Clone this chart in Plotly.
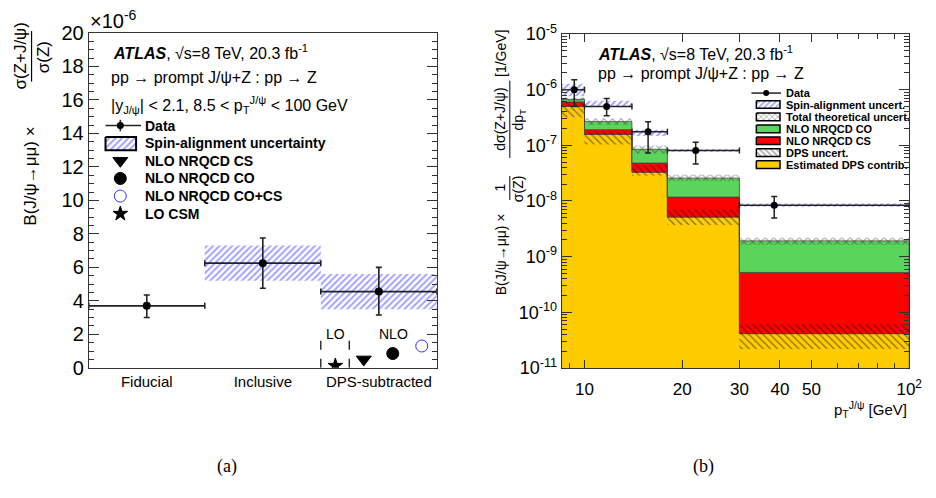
import numpy as np
import plotly.graph_objects as go

W, H = 936, 498

# ---------------- Panel (a) data ----------------
cat_labels = ["Fiducial", "Inclusive", "DPS-subtracted"]
cat_pos = [0.5, 1.5, 2.5]
cat_half = [0.5, 0.5, 0.5]
a_vals = [3.7, 6.25, 4.55]
a_err_up = [0.65, 1.5, 1.45]
a_err_dn = [0.7, 1.5, 1.4]
a_spin_cat = [1, 2]            # categories with spin-alignment band
a_spin_lo = [5.2, 3.5]
a_spin_hi = [7.3, 5.6]
th_names = ["LO CSM", "NLO NRQCD CS", "NLO NRQCD CO", "NLO NRQCD CO+CS"]
th_x = [2.125, 2.37, 2.62, 2.87]
th_y = [0.12, 0.5, 0.85, 1.3]

# ---------------- Panel (b) data ----------------
pt_edges = [8.5, 10, 14, 18, 30, 100]
pt_centers = [9.3, 11.7, 15.7, 22.0, 38.4]
b_data = [1.0e-6, 5.0e-7, 1.75e-7, 8.1e-8, 8.4e-9]
b_err_up = [5.0e-7, 1.9e-7, 9.1e-8, 3.2e-8, 3.7e-9]
b_err_dn = [5.0e-7, 1.6e-7, 1.02e-7, 3.5e-8, 3.45e-9]
spin_lo = [7.6e-7, 4.9e-7, 1.47e-7, 7.7e-8, 7.9e-9]
spin_hi = [1.28e-6, 6.3e-7, 1.9e-7, 8.6e-8, 9.0e-9]
dps = [5.0e-7, 1.57e-7, 3.3e-8, 5.15e-9, 4.15e-11]
nlo_cs = [1.0e-7, 3.4e-8, 1.5e-8, 6.6e-9, 4.8e-10]
nlo_co = [7.0e-8, 7.5e-8, 3.7e-8, 1.4e-8, 1.4e-9]
dps_unc_lo = [3.2e-7, 1.03e-7, 2.84e-8, 3.7e-9, 2.2e-11]
dps_unc_hi = [5.9e-7, 1.75e-7, 4.5e-8, 7.0e-9, 6.1e-11]
tot_unc_lo = [6.2e-7, 2.33e-7, 7.1e-8, 2.29e-8, 1.64e-9]
tot_unc_hi = [7.3e-7, 3.03e-7, 9.9e-8, 2.96e-8, 2.19e-9]

YELLOW = "#ffcc00"
RED = "#ff0000"
GREEN = "#5ad45a"
BLUE = "#3f3fff"
AX = "#333333"
FONT = "Liberation Sans, Arial, sans-serif"

# pixel frames of the two panels
LX0, LX1, LY0, LY1 = 90, 443, 22, 373
RX0, RX1, RY0, RY1 = 569.5, 922, 23, 373.3


def px(x):
    return x / W


def py(y):
    return 1 - y / H


def step_poly(edges, top, bottom):
    xs, ys = [], []
    n = len(top)
    for i in range(n):
        xs += [edges[i], edges[i + 1]]
        ys += [top[i], top[i]]
    for i in reversed(range(n)):
        xs += [edges[i + 1], edges[i]]
        ys += [bottom[i], bottom[i]]
    xs.append(xs[0])
    ys.append(ys[0])
    return xs, ys


def rects(x0s, x1s, lo, hi):
    xs, ys = [], []
    for a, b, l, h in zip(x0s, x1s, lo, hi):
        xs += [a, b, b, a, a, None]
        ys += [l, l, h, h, l, None]
    return xs, ys


BLUE_HATCH = dict(shape="/", fgcolor=BLUE, bgcolor="rgba(0,0,0,0)", size=4.5, solidity=0.42)

fig = go.Figure()

# ================= Panel (a) =================
sx, sy = rects([c for c in a_spin_cat], [c + 1 for c in a_spin_cat], a_spin_lo, a_spin_hi)
fig.add_trace(go.Scatter(x=sx, y=sy, mode="lines", line=dict(width=0), fill="toself",
                         fillcolor="rgba(0,0,0,0)", fillpattern=BLUE_HATCH,
                         xaxis="x", yaxis="y", hoverinfo="skip"))
fig.add_trace(go.Scatter(x=cat_pos, y=a_vals, mode="markers",
                         marker=dict(color="black", size=8),
                         error_x=dict(type="data", array=cat_half, color="#222", thickness=1.6, width=3),
                         error_y=dict(type="data", array=a_err_up, arrayminus=a_err_dn,
                                      color="#222", thickness=1.6, width=3),
                         xaxis="x", yaxis="y"))
th_symbols = ["star", "triangle-down", "circle", "circle-open"]
th_colors = ["black", "black", "black", "#3333ff"]
th_sizes = [11, 13, 12, 12]
for nm, x, y, s, c, z in zip(th_names, th_x, th_y, th_symbols, th_colors, th_sizes):
    fig.add_trace(go.Scatter(x=[x], y=[y], mode="markers", name=nm,
                             marker=dict(symbol=s, color=c, size=z, line=dict(color=c, width=1)),
                             xaxis="x", yaxis="y"))

# ================= Panel (b) =================
dps_arr = np.array(dps)
cs_top = dps_arr + np.array(nlo_cs)
co_top = cs_top + np.array(nlo_co)
bottom = [1e-12] * len(dps)

for top, base, col in [(dps_arr, bottom, YELLOW), (cs_top, dps_arr, RED), (co_top, cs_top, GREEN)]:
    xs, ys = step_poly(pt_edges, list(top), list(base))
    fig.add_trace(go.Scatter(x=xs, y=ys, mode="lines", fill="toself", fillcolor=col,
                             line=dict(color="#444", width=0.8), xaxis="x2", yaxis="y2",
                             hoverinfo="skip"))

xs, ys = rects(pt_edges[:-1], pt_edges[1:], dps_unc_lo, dps_unc_hi)
fig.add_trace(go.Scatter(x=xs, y=ys, mode="lines", line=dict(width=0), fill="toself",
                         fillcolor="rgba(0,0,0,0)",
                         fillpattern=dict(shape="\\", fgcolor="#111", bgcolor="rgba(0,0,0,0)",
                                          size=5, solidity=0.25),
                         xaxis="x2", yaxis="y2", hoverinfo="skip"))
xs, ys = rects(pt_edges[:-1], pt_edges[1:], tot_unc_lo, tot_unc_hi)
fig.add_trace(go.Scatter(x=xs, y=ys, mode="lines", line=dict(width=0), fill="toself",
                         fillcolor="rgba(0,0,0,0)",
                         fillpattern=dict(shape="x", fgcolor="#333", bgcolor="rgba(0,0,0,0)",
                                          size=6, solidity=0.3),
                         xaxis="x2", yaxis="y2", hoverinfo="skip"))
xs, ys = rects(pt_edges[:-1], pt_edges[1:], spin_lo, spin_hi)
fig.add_trace(go.Scatter(x=xs, y=ys, mode="lines", line=dict(width=0), fill="toself",
                         fillcolor="rgba(0,0,0,0)", fillpattern=BLUE_HATCH,
                         xaxis="x2", yaxis="y2", hoverinfo="skip"))
ex_p = [e - c for e, c in zip(pt_edges[1:], pt_centers)]
ex_m = [c - e for e, c in zip(pt_edges[:-1], pt_centers)]
fig.add_trace(go.Scatter(x=pt_centers, y=b_data, mode="markers",
                         marker=dict(color="black", size=7),
                         error_x=dict(type="data", array=ex_p, arrayminus=ex_m, color="#222",
                                      thickness=1.5, width=3),
                         error_y=dict(type="data", array=b_err_up, arrayminus=b_err_dn,
                                      color="#222", thickness=1.5, width=3),
                         xaxis="x2", yaxis="y2"))

# ================= Legends (overlay pixel axis) =================
def ov(x, y, **kw):
    fig.add_trace(go.Scatter(x=x, y=y, xaxis="x3", yaxis="y3", hoverinfo="skip", **kw))


def box(x0, x1, y0, y1, **kw):
    ov([x0, x1, x1, x0, x0], [y0, y0, y1, y1, y0], mode="lines", fill="toself", **kw)


# left legend
ov([107, 143], [119, 119], mode="lines", line=dict(color="#222", width=1.6))
ov([122, 122], [113, 125], mode="lines", line=dict(color="#222", width=1.6))
ov([122], [119], mode="markers", marker=dict(color="black", size=7))
box(107, 138, 131, 145, line=dict(color="black", width=2), fillcolor="rgba(0,0,0,0)",
    fillpattern=BLUE_HATCH)
leg_a_sym = ["triangle-down", "circle", "circle-open", "star"]
leg_a_col = ["black", "black", "#3333ff", "black"]
leg_a_size = [13, 12, 12, 11]
leg_a_y = [156, 174.5, 193, 211.5]
for s, c, z, yy in zip(leg_a_sym, leg_a_col, leg_a_size, leg_a_y):
    ov([122], [yy], mode="markers", marker=dict(symbol=s, color=c, size=z, line=dict(color=c, width=1)))

# right legend
ov([762, 792], [85, 85], mode="lines", line=dict(color="#222", width=1.5))
ov([777], [85], mode="markers", marker=dict(color="black", size=6))
rl = dict(color="black", width=1.5)
box(767, 791, 93, 101, line=rl, fillcolor="rgba(0,0,0,0)",
    fillpattern=dict(shape="/", fgcolor=BLUE, bgcolor="rgba(0,0,0,0)", size=4, solidity=0.4))
box(767, 791, 106, 114, line=rl, fillcolor="rgba(0,0,0,0)",
    fillpattern=dict(shape="x", fgcolor="#222", bgcolor="rgba(0,0,0,0)", size=4, solidity=0.3))
box(767, 791, 118.5, 126.5, line=rl, fillcolor=GREEN)
box(767, 791, 131, 139, line=rl, fillcolor=RED)
box(767, 791, 143.5, 151.5, line=rl, fillcolor="rgba(0,0,0,0)",
    fillpattern=dict(shape="\\", fgcolor="#222", bgcolor="rgba(0,0,0,0)", size=4, solidity=0.3))
box(767, 791, 156, 164, line=rl, fillcolor=YELLOW)

# ================= Annotations =================
ann = []


def A(x, y, text, size, xanchor="left", angle=0, family=FONT, yanchor="middle"):
    ann.append(dict(x=px(x), y=py(y), xref="paper", yref="paper", text=text, showarrow=False,
                    xanchor=xanchor, yanchor=yanchor, textangle=angle,
                    font=dict(size=size, family=family, color="black")))


atlas = "<b><i>ATLAS</i></b>, √s=8 TeV, 20.3 fb<sup>-1</sup>"
proc = "pp → prompt J/ψ+Z : pp → Z"
A(113, 42, atlas, 16)
A(111, 69, proc, 16)
A(111, 97, "|y<sub>J/ψ</sub>| &lt; 2.1, 8.5 &lt; p<sub>T</sub><sup>J/ψ</sup> &lt; 100 GeV", 16)
leg_a_txt = ["Data", "Spin-alignment uncertainty", "NLO NRQCD CS", "NLO NRQCD CO",
             "NLO NRQCD CO+CS", "LO CSM"]
for t, yy in zip(leg_a_txt, [119, 137.5, 156, 174.5, 193, 211.5]):
    A(145, yy, "<b>" + t + "</b>", 14)

A(604, 43, atlas, 16)
A(604, 64, proc, 16)
leg_b_txt = ["Data", "Spin-alignment uncert.", "Total theoretical uncert.", "NLO NRQCD CO",
             "NLO NRQCD CS", "DPS uncert.", "Estimated DPS contrib."]
for i, t in enumerate(leg_b_txt):
    A(795, 85 + 12.5 * i, "<b>" + t + "</b>", 11)

# LO / NLO labels
ann.append(dict(x=2.13, y=2.0, xref="x", yref="y", text="LO", showarrow=False,
                font=dict(size=14, family=FONT, color="black")))
ann.append(dict(x=2.625, y=2.0, xref="x", yref="y", text="NLO", showarrow=False,
                font=dict(size=14, family=FONT, color="black")))

# axis extras
A(89, 8, "×10<sup>-6</sup>", 20)
A(30, 172, "B(J/ψ→μμ) ×", 17, xanchor="center", angle=-90)
A(21, 46, "σ(Z+J/ψ)", 17, xanchor="center", angle=-90)
A(44, 47, "σ(Z)", 17, xanchor="center", angle=-90)

A(508, 43, "[1/GeV]", 14, xanchor="center", angle=-90)
A(507, 112, "dσ(Z+J/ψ)", 14, xanchor="center", angle=-90)
A(526, 113, "dp<sub>T</sub>", 14, xanchor="center", angle=-90)
A(507, 184, "1", 14, xanchor="center", angle=-90)
A(526, 185, "σ(Z)", 14, xanchor="center", angle=-90)
A(508, 254, "B(J/ψ→μμ) ×", 14, xanchor="center", angle=-90)

A(922, 417, "p<sub>T</sub><sup>J/ψ</sup> [GeV]", 15, xanchor="right")
A(230, 476, "(a)", 18, xanchor="center", family="Liberation Serif, Times New Roman, serif")
A(713, 476, "(b)", 18, xanchor="center", family="Liberation Serif, Times New Roman, serif")

shapes = [
    dict(type="line", xref="paper", yref="paper", x0=px(32), x1=px(32), y0=py(20), y1=py(73),
         line=dict(color="black", width=1.2)),
    dict(type="line", xref="paper", yref="paper", x0=px(517), x1=px(517), y0=py(72), y1=py(153),
         line=dict(color="black", width=1.0)),
    dict(type="line", xref="paper", yref="paper", x0=px(517), x1=px(517), y0=py(172), y1=py(197),
         line=dict(color="black", width=1.0)),
    dict(type="line", xref="x", yref="y", x0=2.0, x1=2.0, y0=0, y1=1.98,
         line=dict(color="black", width=1.2, dash="dash")),
    dict(type="line", xref="x", yref="y", x0=2.245, x1=2.245, y0=0, y1=1.98,
         line=dict(color="black", width=1.2, dash="dash")),
]

# ================= Axes =================
decades = list(range(-11, -4))
y2_major = [10.0 ** e for e in decades]
y2_text = ["10<sup>%d</sup>" % e for e in decades]
y2_minor = [k * 10.0 ** e for e in decades[:-1] for k in range(2, 10)]

fig.update_layout(
    width=W, height=H, margin=dict(l=0, r=0, t=0, b=0),
    paper_bgcolor="white", plot_bgcolor="rgba(0,0,0,0)", showlegend=False,
    font=dict(family=FONT, color="black"),
    annotations=ann, shapes=shapes,
    xaxis=dict(domain=[px(LX0), px(LX1)], anchor="y", range=[0, 3], tickvals=cat_pos,
               ticktext=cat_labels, ticks="", showline=True, linecolor=AX, linewidth=1,
               mirror=True, showgrid=False, zeroline=False, tickfont=dict(size=15)),
    yaxis=dict(domain=[py(LY1), py(LY0)], anchor="x", range=[0, 20],
               tickvals=list(range(0, 21, 2)), ticks="inside", ticklen=10, tickcolor=AX,
               showline=True, linecolor=AX, linewidth=1, mirror="ticks", showgrid=False,
               zeroline=False, tickfont=dict(size=20),
               minor=dict(dtick=0.5, ticks="inside", ticklen=5, tickcolor=AX)),
    xaxis2=dict(domain=[px(RX0), px(RX1)], anchor="y2", type="log",
                range=[np.log10(8.5), 2], tickvals=[10, 20, 30, 40, 50, 100],
                ticktext=["10", "20", "30", "40", "50", "10<sup>2</sup>"],
                ticks="inside", ticklen=8, tickcolor=AX, showline=True, linecolor=AX,
                linewidth=1, mirror="ticks", showgrid=False, zeroline=False,
                tickfont=dict(size=17), ticklabelstandoff=6,
                minor=dict(tickvals=[9, 60, 70, 80, 90], ticks="inside", ticklen=5,
                           tickcolor=AX)),
    yaxis2=dict(domain=[py(RY1), py(RY0)], anchor="x2", type="log", range=[-11, -5],
                tickvals=y2_major, ticktext=y2_text, ticks="inside", ticklen=10,
                tickcolor=AX, showline=True, linecolor=AX, linewidth=1, mirror="ticks",
                showgrid=False, zeroline=False, tickfont=dict(size=18),
                minor=dict(tickvals=y2_minor, ticks="inside", ticklen=5, tickcolor=AX)),
    xaxis3=dict(domain=[0, 1], anchor="y3", range=[0, W], visible=False, fixedrange=True),
    yaxis3=dict(domain=[0, 1], anchor="x3", range=[H, 0], visible=False, fixedrange=True),
)

fig.write_html("out.html",
               post_script="document.body.style.margin='0';document.body.style.overflow='hidden';")
